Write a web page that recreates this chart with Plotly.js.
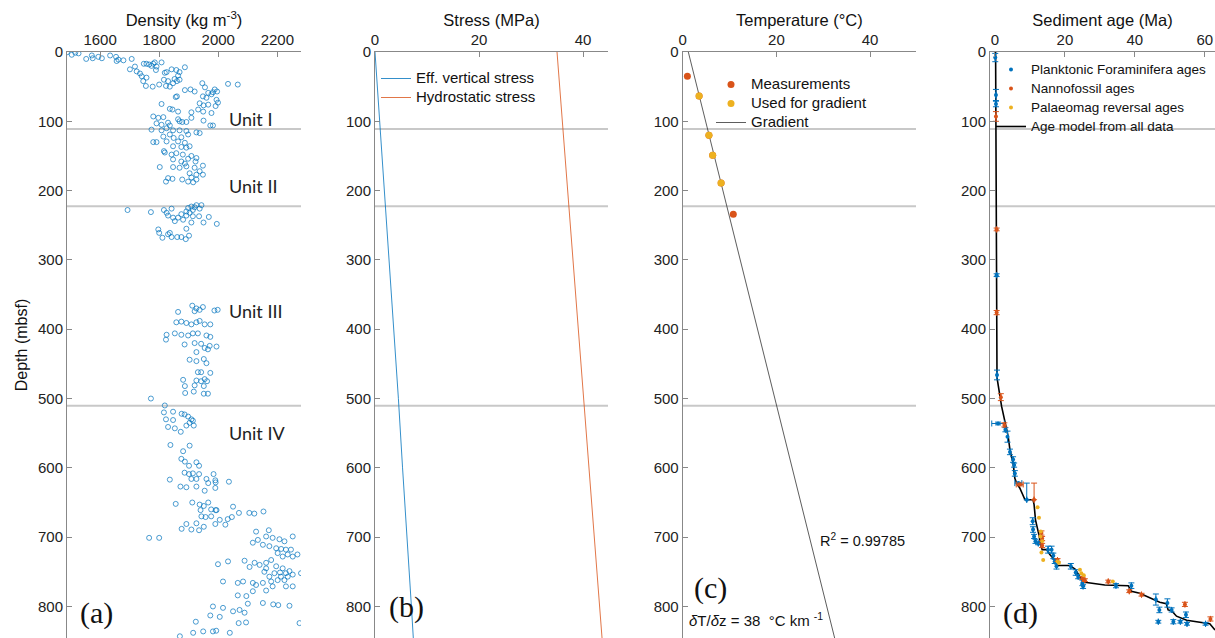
<!DOCTYPE html>
<html><head><meta charset="utf-8">
<script src="https://cdn.plot.ly/plotly-3.0.1.min.js"></script>
<style>html,body{margin:0;padding:0;background:#fff}#g{width:1215px;height:638px}</style>
</head><body><div id="g"></div>
<script>
// ---------- Panel (a): density ----------
const densVal = [1488,1504,1516,1527,1572,1575,1594,1606,1553,1634,1654,1662,1656,1679,1707,1701,1718,1724,1735,1741,1746,1757,1755,1748,1757,1766,1774,1780,1785,1791,1808,1789,1778,1800,1819,1825,1816,1830,1823,1836,1842,1858,1869,1864,1852,1847,1860,1869,1887,1856,1860,1887,1906,1920,1808,1836,1845,1864,1909,1946,2033,2066,1955,1988,1996,1966,1977,1982,1948,1960,1937,1950,1966,1994,1999,1991,1932,1949,1977,1950,1973,1982,1909,1892,1869,1878,1780,1797,1814,1791,1808,1830,1836,1864,1774,1808,1825,1847,1869,1892,1926,1937,1814,1836,1849,1875,1898,1780,1791,1825,1864,1887,1903,1892,1875,1847,1816,1819,1842,1858,1880,1909,1926,1898,1875,1847,1887,1923,1948,1802,1847,1869,1892,1920,1937,1903,1948,1926,1909,1823,1830,1845,1878,1898,1915,1926,
1693,1772,1816,1825,1842,1830,1847,1864,1875,1892,1898,1909,1920,1926,1943,1937,1914,1903,1892,1914,1935,1950,1968,1995,1909,1881,1853,1797,1800,1811,1830,1842,1861,1875,1890,1901,1892,1836,
1864,1912,1926,1937,1948,1987,1998,1920,
1858,1875,1892,1909,1926,1937,1954,1973,1825,1853,1875,1898,1914,1931,1960,1973,1823,1886,1920,1942,1954,1971,1994,1965,1926,1903,1926,1951,1960,1931,1942,1973,1881,1926,1942,1954,1962,1887,1920,1951,1888,1917,1951,1965,
1772,1819,1816,1847,1876,1886,1898,1909,1914,1903,1892,1917,1823,1847,1830,1853,1873,1838,1903,1881,1875,1887,1901,1926,1935,1836,1886,1901,1914,1935,1909,1926,1960,1984,1990,1991,2036,1966,1872,1892,1926,1954,1990,1856,1912,1937,1951,1966,1940,1976,1991,1994,2050,2070,2105,2122,2153,1892,1926,1943,1957,1976,1951,1990,2024,2032,2046,2005,1909,1935,1876,1766,1800,
2128,2171,2162,2184,2207,2224,2252,2134,2117,2151,2173,2196,2213,2229,2246,2268,2252,2235,2218,2201,2179,2162,2140,2123,2106,2089,2162,2196,2218,2241,2229,2209,2190,2173,2156,2212,2235,2252,2280,2224,2201,2179,2151,2128,2117,2084,2066,2016,1999,2033,2229,2252,2184,2162,2117,2095,2066,2100,2151,2186,2203,2241,2072,2089,2050,2016,1982,1973,2005,2069,2094,2275,1924,1949,1915,1982,1993,2039,1870];
const densDepth = [0.5,4,1,2,5,9,7,9,10,5,7,11,13,12,10,25,21,28,31,35,42,37,49,17,17,18,20,17,15,21,15,26,50,47,30,29,40,42,49,50,25,26,29,34,39,45,42,40,22,65,64,55,54,57,75,82,83,86,87,45,46,47,51,54,57,59,61,58,64,66,74,77,76,69,73,78,83,86,88,99,106,106,95,101,100,101,93,95,94,103,105,102,106,97,112,113,110,113,113,114,116,117,122,119,124,123,119,130,130,129,129,131,136,138,137,136,143,145,148,146,148,150,153,154,158,155,161,158,164,166,166,167,165,167,172,175,177,177,181,187,182,183,184,187,188,184,
228,231,228,232,226,236,239,239,234,230,225,223,224,221,221,226,228,232,236,237,237,246,238,248,246,242,244,256,261,268,263,267,267,267,270,265,255,261,
375,366,370,372,368,373,372,374,
390,389,391,393,390,388,393,393,408,406,408,409,406,406,409,411,415,422,420,421,427,424,425,429,433,444,446,443,449,462,462,463,473,474,475,472,475,482,481,482,492,490,493,493,
500,510,520,519,522,523,526,530,532,535,539,539,530,531,541,543,548,567,568,576,587,591,597,592,597,617,607,609,608,609,616,616,616,609,618,621,620,622,627,628,627,633,629,652,650,653,655,650,661,660,661,661,656,665,665,666,663,681,680,670,671,670,685,681,682,674,671,675,689,690,688,701,701,
692,690,699,701,703,706,699,704,708,711,713,716,717,718,718,725,728,725,728,723,733,737,740,737,743,734,745,742,745,749,752,751,752,757,750,757,757,754,752,762,762,764,766,769,766,764,766,764,739,735,771,771,771,777,778,785,784,796,795,797,798,799,805,809,807,802,800,813,815,824,823,824,822,836,838,836,835,838,843];

// ---------- Panel (b): stress ----------
const stressDepth = [0,100,200,300,400,500,600,700,800,850];
const effStress   = [0,0.9,1.9,2.8,3.7,4.5,5.3,6.2,7.0,7.4];
const hydroDepth  = [0,850];
const hydroStress = [35.0,43.7];

// ---------- Panel (c): temperature ----------
const measTemp  = [1.0,3.5,5.6,6.4,8.2,10.8];
const measDepth = [35,63.5,120,149,189,234];
const usedTemp  = [3.5,5.6,6.4,8.2];
const usedDepth = [63.5,120,149,189];
const gradDepth = [0,850];
const gradTemp  = [1.2,32.6];

// ---------- Panel (d): sediment age ----------
const foramAge   = [0.1,0.3,0.3,0.5,0.6,0.9,3.0,3.6,4.3,5.2,5.5,5.7,6.7,9.1,10.8,10.9,11.2,11.6,12.4,15.2,16.2,16.7,17.1,17.6,21.7,23.1,23.8,25.0,25.2,34.6,39.0,46.0,47.0,46.7,49.3,50.5,51.0,53.0,54.6,54.9,60.2];
const foramDepth = [8,62,75,322,466,536,545,555,577,588,596,608,622,646,677,689,699,706,709,718,718,727,735,742,742,751,757,766,771,770,770,790,805,822,795,805,822,822,812,825,825];
const foramErrDn = [6,8,4,2,7,2,3,8,4,4,3,4,1,0,5,4,3,3,2,5,5,4,3,4,4,4,3,4,3,3,4,8,4,2,6,3,3,2,4,2,2];
const foramErrUp = [6,8,4,2,7,2,3,8,4,4,3,4,1,24,5,4,3,3,2,5,5,4,3,4,4,4,3,4,3,3,4,8,4,2,6,3,3,2,4,2,2];
const foramAgeErr= [0,0,0,0,0,1.8,0,0,0,0,0,0,1.0,0,0,0,0,0,0,0,0,0,0,0,0,0,0,0,0,0,0,0,0,0,0,0,0,0,0,0,0];
const nannoAge   = [0.3,0.5,0.5,1.7,2.7,7.1,11.2,13.3,13.5,13.5,17.9,25.0,25.7,32.4,38.4,41.9,54.3,61.6];
const nannoDepth = [93,256,376,498,538,624,646,694,702,712,733,759,762,764,778,783,797,818];
const nannoErrDn = [7,2,3,5,3,2,0,3,3,3,2,2,2,2,2,2,3,3];
const nannoErrUp = [7,2,3,5,3,2,24,3,3,3,2,2,2,2,2,2,3,3];
const nannoAgeErr= [0,0,0,0,0,1.0,0,0,0,0,0,0,0,0,0,0,0,0];
const magAge   = [12.2,12.6,13.1,13.0,13.5,13.3,13.8,17.9,18.3,24.3,24.7,25.4,33.7];
const magDepth = [657,672,692,699,706,722,733,735,737,747,752,755,764];
const modelAge   = [0.2,0.4,0.6,1.9,2.9,3.8,4.3,5.2,5.7,6.2,7.1,8.6,10.9,11.2,11.6,12.2,12.6,13.1,13.5,14.8,15.7,17.1,17.6,18.1,21.4,22.9,24.3,25.2,25.7,31.4,38.1,39.0,41.4,45.2,47.1,49.0,49.5,50.5,51.9,54.8,59.5,61.4,62.9];
const modelDepth = [0,300,470,511,536,555,574,593,615,622,629,646,646,653,675,687,697,711,718,718,725,733,740,741,741,746,756,764,765,769,770,778,781,790,794,796,805,806,814,820,824,825,834];

// ---------- Common ----------
const unitBounds = [111,222.5,510.5];
const depthTicks = [0,100,200,300,400,500,600,700,800];
const BLUE='#0072BD', RED='#D95319', YEL='#EDB120';
const FONT='Liberation Sans, Arial, sans-serif';
function lg(t,s){return '<span style="font-size:'+s+'px">'+t+'</span>';}

const traces = [
  {x:densVal,y:densDepth,xaxis:'x',yaxis:'y',mode:'markers',type:'scatter',showlegend:false,
   marker:{symbol:'circle-open',size:5,color:BLUE,line:{width:0.7,color:BLUE}}},
  {x:effStress,y:stressDepth,xaxis:'x2',yaxis:'y2',mode:'lines',name:lg('Eff. vertical stress',15),legend:'legend',
   line:{color:BLUE,width:0.8}},
  {x:hydroStress,y:hydroDepth,xaxis:'x2',yaxis:'y2',mode:'lines',name:lg('Hydrostatic stress',15),legend:'legend',
   line:{color:RED,width:0.8}},
  {x:gradTemp,y:gradDepth,xaxis:'x3',yaxis:'y3',mode:'lines',name:lg('Gradient',15),legend:'legend2',legendrank:3,
   line:{color:'#333',width:0.8}},
  {x:measTemp,y:measDepth,xaxis:'x3',yaxis:'y3',mode:'markers',name:lg('Measurements',15),legend:'legend2',legendrank:1,
   marker:{size:7,color:RED}},
  {x:usedTemp,y:usedDepth,xaxis:'x3',yaxis:'y3',mode:'markers',name:lg('Used for gradient',15),legend:'legend2',legendrank:2,
   marker:{size:7,color:YEL}},
  {x:modelAge,y:modelDepth,xaxis:'x4',yaxis:'y4',mode:'lines',name:lg('Age model from all data',13.5),legend:'legend3',legendrank:4,
   line:{color:'#000',width:1.6}},
  {x:foramAge,y:foramDepth,xaxis:'x4',yaxis:'y4',mode:'markers',name:lg('Planktonic Foraminifera ages',13.5),legend:'legend3',legendrank:1,
   marker:{size:4,color:BLUE},
   error_y:{type:'data',symmetric:false,array:foramErrDn,arrayminus:foramErrUp,color:BLUE,thickness:1,width:3},
   error_x:{type:'data',array:foramAgeErr,color:BLUE,thickness:1,width:3}},
  {x:nannoAge,y:nannoDepth,xaxis:'x4',yaxis:'y4',mode:'markers',name:lg('Nannofossil ages',13.5),legend:'legend3',legendrank:2,
   marker:{size:4,color:RED},
   error_y:{type:'data',symmetric:false,array:nannoErrDn,arrayminus:nannoErrUp,color:RED,thickness:1,width:3},
   error_x:{type:'data',array:nannoAgeErr,color:RED,thickness:1,width:3}},
  {x:magAge,y:magDepth,xaxis:'x4',yaxis:'y4',mode:'markers',name:lg('Palaeomag reversal ages',13.5),legend:'legend3',legendrank:3,
   marker:{size:4,color:YEL}}
];

const W=1215, T=52, H=638;
function px(v){return v/W;}
function xa(dom, range, ticks, title){
  return {domain:dom, range:range, side:'top', tickvals:ticks, ticks:'inside', ticklen:5, tickcolor:'#888',
    showline:true, linecolor:'#888', linewidth:1, showgrid:false, zeroline:false,
    tickfont:{size:15,color:'#222',family:FONT}, title:{text:title, font:{size:16.5,color:'#111',family:FONT}, standoff:0}};
}
function ya(anchor, showTitle){
  const o = {domain:[0,1], range:[845.5,0], anchor:anchor, tickvals:depthTicks, ticks:'inside', ticklen:5, tickcolor:'#888',
    showline:true, linecolor:'#888', linewidth:1, showgrid:false, zeroline:false,
    tickfont:{size:15,color:'#222',family:FONT}};
  if(showTitle) o.title={text:'Depth (mbsf)', font:{size:16,color:'#111',family:FONT}, standoff:6};
  return o;
}
const layout = {
  width:W, height:H, margin:{l:0,r:0,t:T,b:0}, paper_bgcolor:'#fff', plot_bgcolor:'#fff',
  font:{family:FONT,color:'#111'},
  xaxis: Object.assign(xa([px(67),px(301)],[1488,2280],[1600,1800,2000,2200],'Density (kg m<sup>-3</sup>)'),{anchor:'y'}),
  xaxis2:Object.assign(xa([px(375),px(608)],[0,44.8],[0,20,40],'Stress (MPa)'),{anchor:'y2'}),
  xaxis3:Object.assign(xa([px(682.7),px(916)],[0,49.8],[0,20,40],'Temperature (°C)'),{anchor:'y3'}),
  xaxis4:Object.assign(xa([px(990),1],[-1.4,62.9],[0,20,40,60],'Sediment age (Ma)'),{anchor:'y4'}),
  yaxis: ya('x',true), yaxis2: ya('x2',false), yaxis3: ya('x3',false), yaxis4: ya('x4',false),
  legend:{x:px(376),y:(H-64)/(H-T),xanchor:'left',yanchor:'top',bgcolor:'rgba(0,0,0,0)',font:{size:12,family:FONT,color:'#111'},tracegroupgap:0,itemwidth:30},
  legend2:{x:px(711),y:(H-70)/(H-T),xanchor:'left',yanchor:'top',bgcolor:'rgba(0,0,0,0)',font:{size:12,family:FONT,color:'#111'},tracegroupgap:0,itemwidth:30},
  legend3:{x:px(991),y:(H-55)/(H-T),xanchor:'left',yanchor:'top',bgcolor:'rgba(0,0,0,0)',font:{size:11,family:FONT,color:'#111'},tracegroupgap:0,itemwidth:30},
  shapes:[], annotations:[]
};
['','2','3','4'].forEach(s=>{
  unitBounds.forEach(d=>{
    layout.shapes.push({type:'line',xref:'x'+s+' domain',yref:'y'+s,x0:0,x1:1,y0:d,y1:d,layer:'below',line:{color:'#c8c8c8',width:2}});
  });
});
const unitNames=['Unit I','Unit II','Unit III','Unit IV'];
const unitLabelDepth=[96.5,194,374,550];
unitNames.forEach((u,i)=>{
  layout.annotations.push({text:u,xref:'x',yref:'y',x:2030,y:unitLabelDepth[i],xanchor:'left',yanchor:'middle',showarrow:false,
    font:{size:18,family:'Lato, Open Sans, sans-serif',color:'#222'}});
});
const panelLab=[['(a)',96,613],['(b)',406,607],['(c)',710,588],['(d)',1020,613]];
panelLab.forEach(p=>{
  layout.annotations.push({text:p[0],xref:'paper',yref:'paper',x:px(p[1]),y:(H-p[2])/(H-T),xanchor:'center',yanchor:'middle',showarrow:false,
    font:{size:30,family:'Liberation Serif, Times New Roman, serif',color:'#111'}});
});
layout.annotations.push({text:'R<sup>2</sup> = 0.99785',xref:'paper',yref:'paper',x:px(818),y:(H-540)/(H-T),xanchor:'left',yanchor:'middle',showarrow:false,font:{size:14.5,family:FONT,color:'#111'}});
layout.annotations.push({text:'<i>δ</i>T/<i>δ</i>z = 38  °C km <sup>-1</sup>',xref:'paper',yref:'paper',x:px(687),y:(H-619)/(H-T),xanchor:'left',yanchor:'middle',showarrow:false,font:{size:15,family:FONT,color:'#111'}});

Plotly.newPlot('g',traces,layout,{staticPlot:true,displayModeBar:false});
</script></body></html>
